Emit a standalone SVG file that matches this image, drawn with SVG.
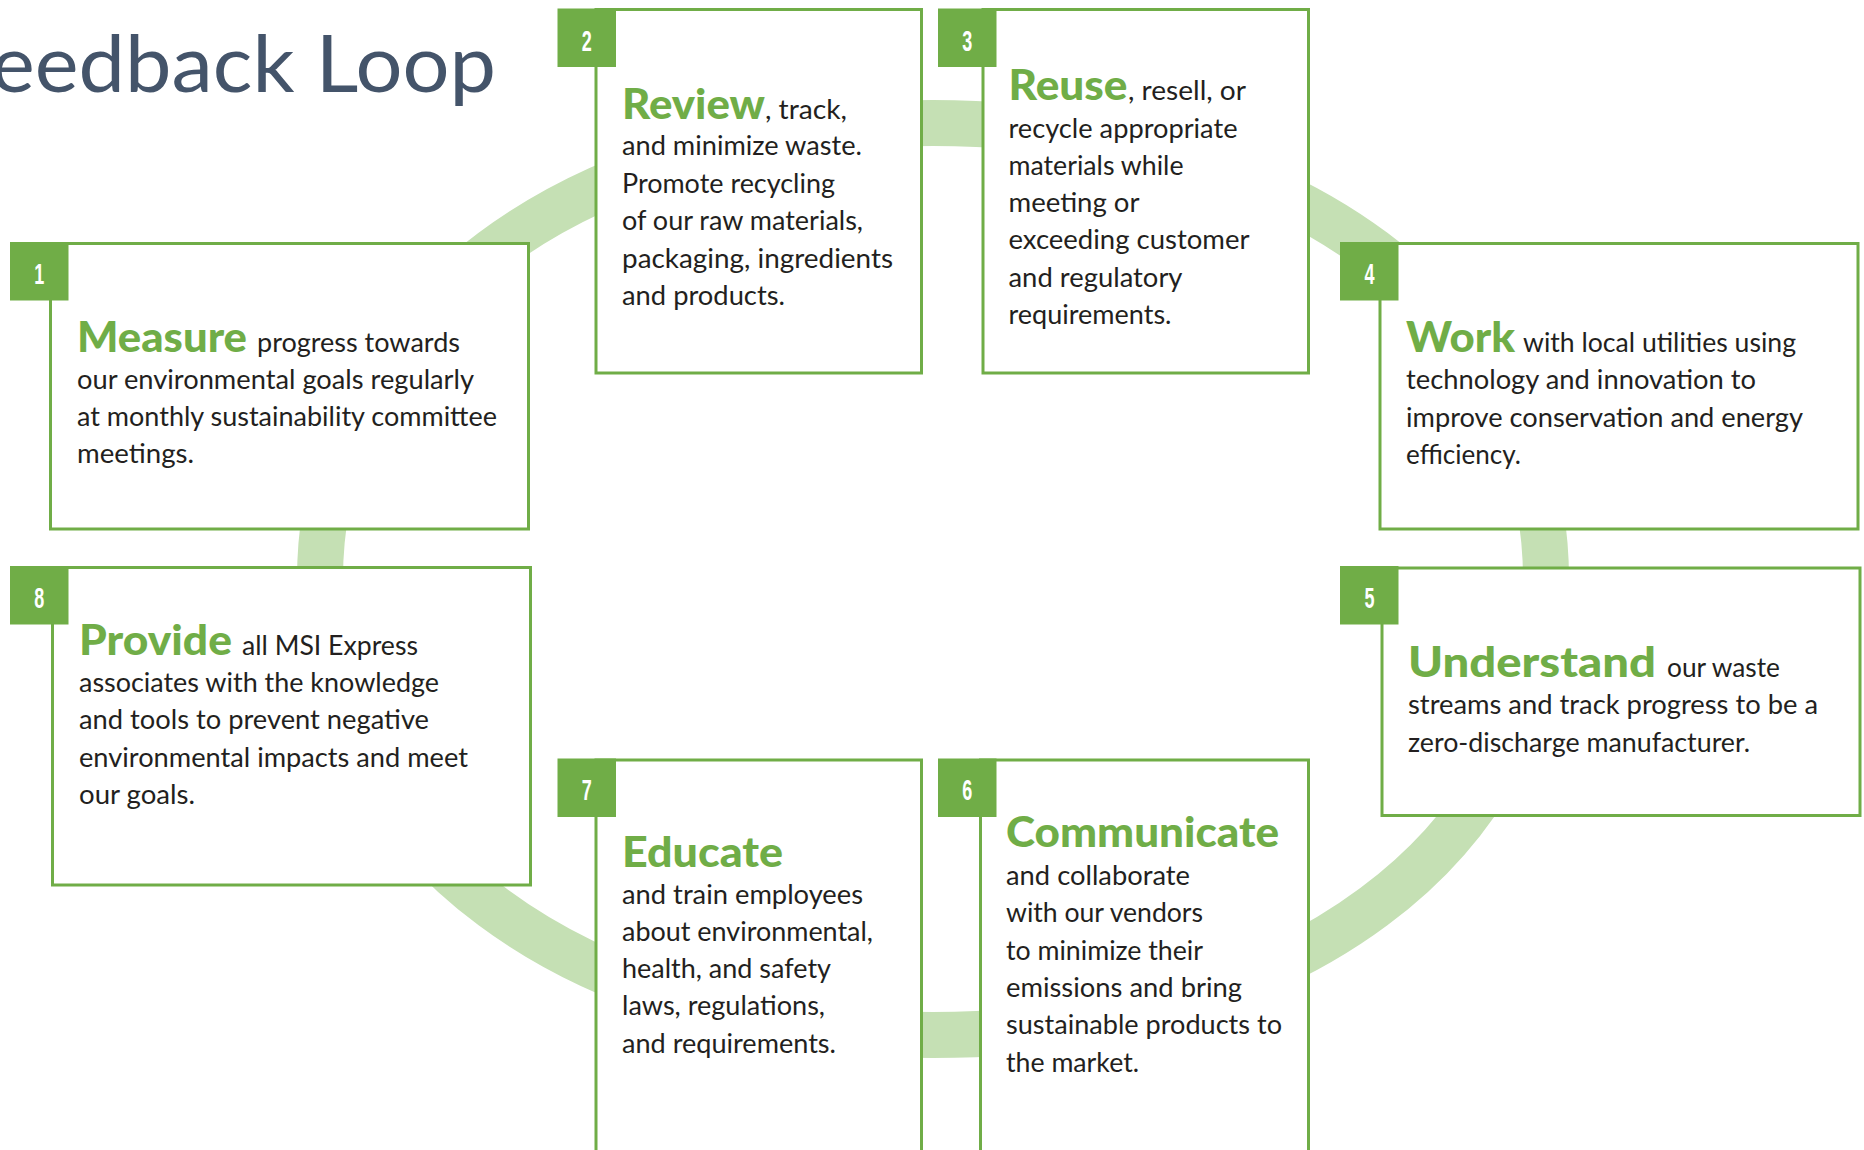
<svg xmlns="http://www.w3.org/2000/svg" width="1864" height="1150" viewBox="0 0 1864 1150">
<style>
.box{fill:#ffffff;stroke:#70ad47;stroke-width:3}
.badge{fill:#70ad47}
.num{font-family:"Liberation Sans",Arial,sans-serif;font-weight:700;font-size:30px;fill:#ffffff;text-anchor:middle}
.hd{font-family:Lato,"Liberation Sans",sans-serif;font-weight:900;font-size:42px;fill:#70ad47}
.tx{font-family:Lato,"Liberation Sans",sans-serif;font-size:27px;fill:#231f20}
.title{font-family:Lato,"Liberation Sans",sans-serif;font-size:80px;fill:#44546a}
.ring{fill:none;stroke:#c5e0b4;stroke-width:46}
</style>
<rect width="1864" height="1150" fill="#ffffff"/>
<text class="title" x="-9" y="92" textLength="505" lengthAdjust="spacingAndGlyphs">eedback Loop</text>
<g id="connectors">
<path class="ring" d="M320,579 C320,312.8 575.2,123 933,123 C1290.8,123 1546,312.8 1546,579 C1546,845.2 1290.8,1035 933,1035 C575.2,1035 320,845.2 320,579 Z"/>
</g>
<g id="node1">
<rect class="box" x="50.5" y="243.5" width="478" height="285.5"/>
<rect class="badge" x="10" y="242" width="58.5" height="58.5"/>
<text class="num" transform="translate(39.2,283.5) scale(0.6,1)">1</text>
<text class="hd" x="77" y="352" textLength="170" lengthAdjust="spacingAndGlyphs">Measure</text>
<text class="tx" x="257" y="352" textLength="203" lengthAdjust="spacingAndGlyphs">progress towards</text>
<text class="tx" x="77" y="389" textLength="397" lengthAdjust="spacingAndGlyphs">our environmental goals regularly</text>
<text class="tx" x="77" y="426" textLength="420" lengthAdjust="spacingAndGlyphs">at monthly sustainability committee</text>
<text class="tx" x="77" y="463" textLength="117" lengthAdjust="spacingAndGlyphs">meetings.</text>
</g>
<g id="node2">
<rect class="box" x="596" y="9.5" width="325.5" height="363.5"/>
<rect class="badge" x="557.5" y="8.5" width="58.5" height="58.5"/>
<text class="num" transform="translate(586.7,50.5) scale(0.6,1)">2</text>
<text class="hd" x="622" y="118.5" textLength="143" lengthAdjust="spacingAndGlyphs">Review</text>
<text class="tx" x="765" y="118.5" textLength="82" lengthAdjust="spacingAndGlyphs">, track,</text>
<text class="tx" x="622" y="155" textLength="240" lengthAdjust="spacingAndGlyphs">and minimize waste.</text>
<text class="tx" x="622" y="192.5" textLength="213" lengthAdjust="spacingAndGlyphs">Promote recycling</text>
<text class="tx" x="622" y="230" textLength="241" lengthAdjust="spacingAndGlyphs">of our raw materials,</text>
<text class="tx" x="622" y="267.5" textLength="271" lengthAdjust="spacingAndGlyphs">packaging, ingredients</text>
<text class="tx" x="622" y="304.5" textLength="163" lengthAdjust="spacingAndGlyphs">and products.</text>
</g>
<g id="node3">
<rect class="box" x="983" y="9.5" width="325.5" height="363.5"/>
<rect class="badge" x="938" y="8.5" width="58.5" height="58.5"/>
<text class="num" transform="translate(967.3,50.5) scale(0.6,1)">3</text>
<text class="hd" x="1008.5" y="100" textLength="119" lengthAdjust="spacingAndGlyphs">Reuse</text>
<text class="tx" x="1128" y="100" textLength="118" lengthAdjust="spacingAndGlyphs">, resell, or</text>
<text class="tx" x="1008.5" y="137.5" textLength="229" lengthAdjust="spacingAndGlyphs">recycle appropriate</text>
<text class="tx" x="1008.5" y="174.8" textLength="175" lengthAdjust="spacingAndGlyphs">materials while</text>
<text class="tx" x="1008.5" y="212.1" textLength="131" lengthAdjust="spacingAndGlyphs">meeting or</text>
<text class="tx" x="1008.5" y="249.4" textLength="241" lengthAdjust="spacingAndGlyphs">exceeding customer</text>
<text class="tx" x="1008.5" y="286.7" textLength="174" lengthAdjust="spacingAndGlyphs">and regulatory</text>
<text class="tx" x="1008.5" y="324" textLength="163" lengthAdjust="spacingAndGlyphs">requirements.</text>
</g>
<g id="node4">
<rect class="box" x="1380" y="243.5" width="478" height="285.5"/>
<rect class="badge" x="1340" y="242" width="58.5" height="58.5"/>
<text class="num" transform="translate(1369.5,283.5) scale(0.6,1)">4</text>
<text class="hd" x="1406" y="352" textLength="109" lengthAdjust="spacingAndGlyphs">Work</text>
<text class="tx" x="1523" y="352" textLength="273" lengthAdjust="spacingAndGlyphs">with local utilities using</text>
<text class="tx" x="1406" y="389" textLength="350" lengthAdjust="spacingAndGlyphs">technology and innovation to</text>
<text class="tx" x="1406" y="426.5" textLength="397" lengthAdjust="spacingAndGlyphs">improve conservation and energy</text>
<text class="tx" x="1406" y="463.5" textLength="115" lengthAdjust="spacingAndGlyphs">efficiency.</text>
</g>
<g id="node5">
<rect class="box" x="1382" y="568" width="478" height="247.5"/>
<rect class="badge" x="1340" y="566" width="58.5" height="58.5"/>
<text class="num" transform="translate(1369.5,607.5) scale(0.6,1)">5</text>
<text class="hd" x="1408" y="677" textLength="248" lengthAdjust="spacingAndGlyphs">Understand</text>
<text class="tx" x="1667" y="677" textLength="113" lengthAdjust="spacingAndGlyphs">our waste</text>
<text class="tx" x="1408" y="714" textLength="410" lengthAdjust="spacingAndGlyphs">streams and track progress to be a</text>
<text class="tx" x="1408" y="751.5" textLength="342" lengthAdjust="spacingAndGlyphs">zero-discharge manufacturer.</text>
</g>
<g id="node6">
<rect class="box" x="980.5" y="760" width="328" height="420"/>
<rect class="badge" x="938" y="758.5" width="58.5" height="58.5"/>
<text class="num" transform="translate(967.3,800) scale(0.6,1)">6</text>
<text class="hd" x="1006" y="847" textLength="273" lengthAdjust="spacingAndGlyphs">Communicate</text>
<text class="tx" x="1006" y="885" textLength="184" lengthAdjust="spacingAndGlyphs">and collaborate</text>
<text class="tx" x="1006" y="922.3" textLength="197" lengthAdjust="spacingAndGlyphs">with our vendors</text>
<text class="tx" x="1006" y="959.6" textLength="197" lengthAdjust="spacingAndGlyphs">to minimize their</text>
<text class="tx" x="1006" y="996.9" textLength="236" lengthAdjust="spacingAndGlyphs">emissions and bring</text>
<text class="tx" x="1006" y="1034.2" textLength="276" lengthAdjust="spacingAndGlyphs">sustainable products to</text>
<text class="tx" x="1006" y="1071.5" textLength="133" lengthAdjust="spacingAndGlyphs">the market.</text>
</g>
<g id="node7">
<rect class="box" x="596" y="760" width="325.5" height="420"/>
<rect class="badge" x="557.5" y="758.5" width="58.5" height="58.5"/>
<text class="num" transform="translate(586.7,800) scale(0.6,1)">7</text>
<text class="hd" x="622" y="867" textLength="161" lengthAdjust="spacingAndGlyphs">Educate</text>
<text class="tx" x="622" y="903.5" textLength="241" lengthAdjust="spacingAndGlyphs">and train employees</text>
<text class="tx" x="622" y="940.8" textLength="251" lengthAdjust="spacingAndGlyphs">about environmental,</text>
<text class="tx" x="622" y="978.1" textLength="209" lengthAdjust="spacingAndGlyphs">health, and safety</text>
<text class="tx" x="622" y="1015.4" textLength="203" lengthAdjust="spacingAndGlyphs">laws, regulations,</text>
<text class="tx" x="622" y="1052.7" textLength="214" lengthAdjust="spacingAndGlyphs">and requirements.</text>
</g>
<g id="node8">
<rect class="box" x="52.5" y="567.5" width="478" height="317.5"/>
<rect class="badge" x="10" y="566" width="58.5" height="58.5"/>
<text class="num" transform="translate(39.2,607.5) scale(0.6,1)">8</text>
<text class="hd" x="79" y="655" textLength="153" lengthAdjust="spacingAndGlyphs">Provide</text>
<text class="tx" x="242" y="655" textLength="176" lengthAdjust="spacingAndGlyphs">all MSI Express</text>
<text class="tx" x="79" y="692" textLength="360" lengthAdjust="spacingAndGlyphs">associates with the knowledge</text>
<text class="tx" x="79" y="729.3" textLength="350" lengthAdjust="spacingAndGlyphs">and tools to prevent negative</text>
<text class="tx" x="79" y="766.6" textLength="389" lengthAdjust="spacingAndGlyphs">environmental impacts and meet</text>
<text class="tx" x="79" y="803.9" textLength="116" lengthAdjust="spacingAndGlyphs">our goals.</text>
</g>
</svg>
